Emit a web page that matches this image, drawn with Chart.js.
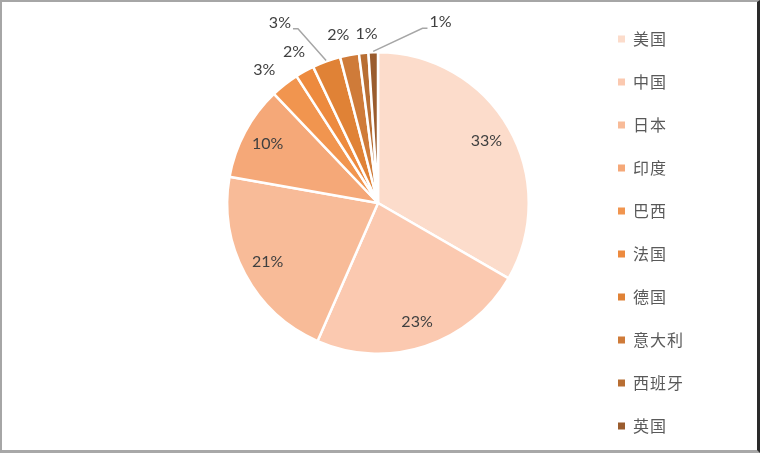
<!DOCTYPE html>
<html>
<head>
<meta charset="utf-8">
<script src="https://cdn.jsdelivr.net/npm/chart.js@4/dist/chart.umd.min.js"></script>
<style>
  html, body { margin: 0; padding: 0; background: #fff; }
  #wrap { position: relative; width: 760px; height: 453px; }
  #chart { position: absolute; left: 0; top: 0; }
  #frame {
    position: absolute; left: 0; top: 0; width: 760px; height: 453px;
    box-sizing: border-box; pointer-events: none;
    border-left: 2px solid #a6a6a6; border-top: 2px solid #a6a6a6;
    border-right: 3px solid #2a2a2a; border-bottom: 3px solid #a8a8a8;
  }
</style>
</head>
<body>
<div id="wrap">
  <canvas id="chart" width="760" height="453"></canvas>
  <div id="frame"></div>
</div>
<script>
// country shares, %
const countries = ['美国', '中国', '日本', '印度', '巴西', '法国', '德国', '意大利', '西班牙', '英国'];
const shares = [33, 23, 21, 10, 3, 2, 3, 2, 1, 1];
const sliceColors = ['#fcdccb', '#fbc9b0', '#f8bb98', '#f5a878', '#f1954f', '#ed8a3e',
                     '#e08236', '#cf7b39', '#b86e33', '#9a5c2e'];

// small slices get their label outside; some are nudged, two get a leader line
const outsideFrom = 4;
const nudges = { 4: { dx: -7, dy: 3 }, 7: { dx: -7, dy: 1 }, 8: { dx: 5, dy: 3 } };
const callouts = { 6: { dx: -39, dy: -18 }, 9: { dx: 68, dy: -8 } };

const pieLabels = {
    id: 'pieLabels',
    afterDatasetsDraw(chart) {
        const ctx = chart.ctx;
        const meta = chart.getDatasetMeta(0);
        const total = shares.reduce((a, b) => a + b, 0);
        ctx.save();
        ctx.font = '16px Lato, "Open Sans", sans-serif';
        ctx.fillStyle = '#404040';
        ctx.textAlign = 'center';
        ctx.textBaseline = 'middle';
        meta.data.forEach((arc, i) => {
            const p = arc.getProps(['x', 'y', 'startAngle', 'endAngle', 'outerRadius']);
            const mid = (p.startAngle + p.endAngle) / 2;
            const text = Math.round(shares[i] / total * 100) + '%';
            if (i < outsideFrom) {
                const r = p.outerRadius * 0.83;
                ctx.fillText(text, p.x + Math.cos(mid) * r, p.y + Math.sin(mid) * r);
                return;
            }
            const r = p.outerRadius + 22;
            let lx = p.x + Math.cos(mid) * r;
            let ly = p.y + Math.sin(mid) * r;
            const n = nudges[i];
            if (n) {
                lx += n.dx;
                ly += n.dy;
            }
            const c = callouts[i];
            if (c) {
                lx += c.dx;
                ly += c.dy;
                const hw = ctx.measureText(text).width / 2;
                const ax = p.x + Math.cos(mid) * (p.outerRadius + 1);
                const ay = p.y + Math.sin(mid) * (p.outerRadius + 1);
                const side = c.dx < 0 ? 1 : -1;
                const ex = lx + side * (hw + 2);
                ctx.strokeStyle = '#a6a6a6';
                ctx.lineWidth = 1.5;
                ctx.beginPath();
                ctx.moveTo(ax, ay);
                ctx.lineTo(ex + side * 5, ly + 6);
                ctx.lineTo(ex, ly + 6);
                ctx.stroke();
            }
            ctx.fillText(text, lx, ly);
        });
        ctx.restore();
    }
};

const sideLegend = {
    id: 'sideLegend',
    afterDraw(chart) {
        const ctx = chart.ctx;
        const x0 = 618, y0 = 39, step = 43, box = 7;
        ctx.save();
        ctx.font = '16px "Noto Sans CJK SC", sans-serif';
        ctx.letterSpacing = '1px';
        ctx.textBaseline = 'middle';
        ctx.textAlign = 'left';
        chart.data.labels.forEach((name, i) => {
            const y = y0 + i * step;
            ctx.fillStyle = chart.data.datasets[0].backgroundColor[i];
            ctx.fillRect(x0, y - box / 2, box, box);
            ctx.fillStyle = '#595959';
            ctx.fillText(name, x0 + 15, y);
        });
        ctx.restore();
    }
};

new Chart(document.getElementById('chart'), {
    type: 'pie',
    data: {
        labels: countries,
        datasets: [{
            data: shares,
            backgroundColor: sliceColors,
            borderColor: '#ffffff',
            borderWidth: 2.5
        }]
    },
    options: {
        responsive: false,
        animation: false,
        layout: { padding: { left: 226, right: 230, top: 51, bottom: 98 } },
        plugins: {
            legend: { display: false },
            tooltip: { enabled: false }
        }
    },
    plugins: [pieLabels, sideLegend]
});
</script>
</body>
</html>
